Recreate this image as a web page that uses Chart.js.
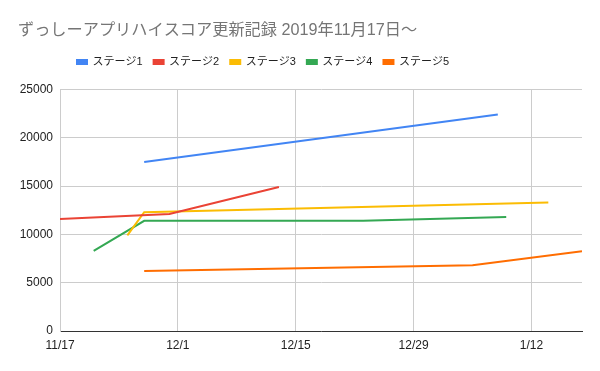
<!DOCTYPE html>
<html>
<head>
<meta charset="utf-8">
<script src="https://cdn.jsdelivr.net/npm/chart.js@4/dist/chart.umd.min.js"></script>
<style>
html,body{margin:0;padding:0;background:#fff;}
#wrap{width:600px;height:371px;}
</style>
</head>
<body>
<div id="wrap"><canvas id="c" width="600" height="371"></canvas></div>
<script>
const chartTitle = 'ずっしーアプリハイスコア更新記録 2019年11月17日～';
const seriesNames = ['ステージ1','ステージ2','ステージ3','ステージ4','ステージ5'];
const seriesColors = ['#4285F4','#EA4335','#FBBC04','#34A853','#FF6D01'];

const stage1Dates = ['2019-11-27','2020-01-08'];
const stage1Scores = [17500, 22400];
const stage2Dates = ['2019-11-17','2019-11-30','2019-12-13'];
const stage2Scores = [11600, 12100, 14900];
const stage3Dates = ['2019-11-25','2019-11-27','2020-01-14'];
const stage3Scores = [9900, 12300, 13300];
const stage4Dates = ['2019-11-21','2019-11-27','2019-12-23','2020-01-09'];
const stage4Scores = [8300, 11400, 11400, 11800];
const stage5Dates = ['2019-11-27','2020-01-05','2020-01-18'];
const stage5Scores = [6200, 6800, 8250];

const axisStart = '2019-11-17';
const axisEnd = '2020-01-18';
const tickDates = ['2019-11-17','2019-12-01','2019-12-15','2019-12-29','2020-01-12'];
const tickLabels = ['11/17','12/1','12/15','12/29','1/12'];
const yTicks = [0, 5000, 10000, 15000, 20000, 25000];

const DAY = 86400000;
function dayNum(s){ const p = s.split('-').map(Number); return Date.UTC(p[0], p[1]-1, p[2]) / DAY; }
const base = dayNum(axisStart);
function toPoints(dates, scores){ return dates.map((d,i)=>({x: dayNum(d)-base, y: scores[i]})); }

const allDates = [stage1Dates, stage2Dates, stage3Dates, stage4Dates, stage5Dates];
const allScores = [stage1Scores, stage2Scores, stage3Scores, stage4Scores, stage5Scores];
const tickPos = tickDates.map(d => dayNum(d) - base);

const FONT = '"Liberation Sans", Arial, "Noto Sans CJK JP", sans-serif';

const legendTweak = {
  id: 'legendTweak',
  beforeLayout(chart) {
    const lg = chart.legend;
    if (lg && !lg._tweaked) {
      const f = lg.fit;
      lg.fit = function(){ f.call(this); this.height += 12; };
      lg._tweaked = true;
    }
  },
  afterLayout(chart) {
    const lg = chart.legend;
    if (lg) { lg.left += 6; lg.right += 6; }
  }
};

new Chart(document.getElementById('c'), {
  type: 'line',
  plugins: [legendTweak],
  data: {
    datasets: seriesNames.map((n,i)=>({
      label: n,
      data: toPoints(allDates[i], allScores[i]),
      borderColor: seriesColors[i],
      backgroundColor: seriesColors[i],
      borderWidth: 2,
      pointRadius: 0,
      pointHoverRadius: 0,
      tension: 0,
      fill: false
    }))
  },
  options: {
    responsive: false,
    animation: false,
    devicePixelRatio: 1,
    layout: { padding: { left: 18, right: 18, top: 0, bottom: 0 } },
    plugins: {
      tooltip: { enabled: false },
      title: {
        display: true,
        text: chartTitle,
        align: 'start',
        color: '#757575',
        font: { family: FONT, size: 16.2, weight: 'normal' },
        padding: { top: 21, bottom: 5 }
      },
      legend: {
        display: true,
        position: 'top',
        align: 'start',
        fullSize: false,
        labels: {
          color: '#222',
          font: { family: FONT, size: 11 },
          boxWidth: 10,
          boxHeight: 4,
          padding: 11
        }
      }
    },
    scales: {
      x: {
        type: 'linear',
        min: 0,
        max: dayNum(axisEnd) - base,
        afterBuildTicks: (s) => { s.ticks = tickPos.map(v => ({value: v})); },
        afterFit: (s) => { s.height = 40; },
        ticks: {
          color: '#222',
          font: { family: FONT, size: 12 },
          padding: 7,
          maxRotation: 0,
          autoSkip: false,
          callback: (v) => { const i = tickPos.indexOf(v); return i >= 0 ? tickLabels[i] : ''; }
        },
        grid: { color: '#cccccc', lineWidth: 1, drawTicks: false },
        border: { color: '#333333', width: 1 }
      },
      y: {
        min: 0,
        max: 25000,
        afterBuildTicks: (s) => { s.ticks = yTicks.map(v => ({value: v})); },
        afterFit: (s) => { s.width = 42; },
        ticks: {
          color: '#222',
          font: { family: FONT, size: 12 },
          padding: 7,
          callback: (v) => String(v)
        },
        grid: { color: '#cccccc', lineWidth: 1, drawTicks: false },
        border: { color: '#cccccc', width: 1 }
      }
    }
  }
});
</script>
</body>
</html>
